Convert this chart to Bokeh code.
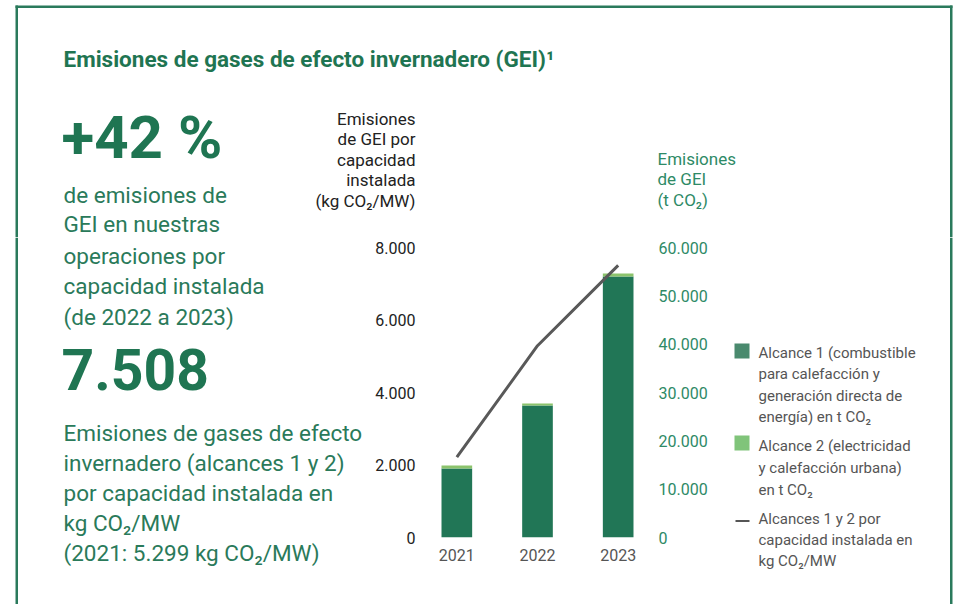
from bokeh.plotting import figure
from bokeh.models import FactorRange, Range1d, LinearAxis, FixedTicker
from bokeh.layouts import column, row
from bokeh.core.properties import value
from bokeh.embed import file_html
from bokeh.resources import INLINE

# ---------------- data ----------------
years = ["2021", "2022", "2023"]
alcance1_t = [14300, 27300, 54000]      # t CO2 (right axis)
alcance2_t = [600, 400, 600]            # t CO2 (right axis)
intensidad_kg_mw = [2215, 5290, 7508]   # kg CO2/MW (left axis)

left_ticks = [0, 2000, 4000, 6000, 8000]
left_tick_labels = ["0", "2.000", "4.000", "6.000", "8.000"]
right_ticks = [0, 10000, 20000, 30000, 40000, 50000, 60000]
right_tick_labels = ["0", "10.000", "20.000", "30.000", "40.000", "50.000", "60.000"]

FONT = "Roboto"
DARK = "#217656"
LIGHT = "#8cc36c"
LINEC = "#595959"
GREEN_TXT = "#1f7552"
GREEN_P = "#2a7a5a"
GREEN_AX = "#2e8a66"
BC = "#2a7a5c"
GREY = "#555555"

TOTAL_W, TOTAL_H = 955, 604
SPLIT_Y = 237
LEFT_W = 372
CHART_R = 731


def textfig(x0, x1, y0, y1):
    f = figure(width=x1 - x0, height=y1 - y0, output_backend="svg",
               toolbar_location=None, x_range=Range1d(x0, x1),
               y_range=Range1d(y1, y0), x_axis_location=None,
               y_axis_location=None, min_border=0)
    f.grid.visible = False
    f.outline_line_color = None
    f.background_fill_color = "white"
    f.border_fill_color = "white"
    return f


def txt(f, xs, ys, texts, size, color, bold=False, align="left"):
    f.text(x=xs, y=ys, text=texts, text_font=value(FONT),
           text_font_size=value(size), text_color=color,
           text_font_style="bold" if bold else "normal",
           text_align=align, text_baseline="middle")


def border(f, x0, x1, y0, y1):
    # frame lines of the panel (left, right and top edges)
    if y0 < 10:
        f.quad(left=[15], right=[952], top=[5], bottom=[7.5], color=BC, line_color=None)
    if x0 < 16:
        f.quad(left=[15], right=[17.5], top=[max(y0, 5)], bottom=[y1], color=BC, line_color=None)
    if x1 > 950:
        f.quad(left=[949.5], right=[952], top=[max(y0, 5)], bottom=[y1], color=BC, line_color=None)


PARA = "22.5px"
AXT = "17px"

# ---------- top panel: title, big number, axis titles ----------
top = textfig(0, TOTAL_W, 0, SPLIT_Y)
border(top, 0, TOTAL_W, 0, SPLIT_Y)
txt(top, [63], [58], ["Emisiones de gases de efecto invernadero (GEI)¹"], "22.5px", GREEN_TXT, bold=True)
txt(top, [61], [137], ["+42 %"], "60px", GREEN_TXT, bold=True)
txt(top, [63, 63], [194, 223.5], ["de emisiones de", "GEI en nuestras"], PARA, GREEN_P)
ltitle = ["Emisiones", "de GEI por", "capacidad", "instalada", "(kg CO₂/MW)"]
txt(top, [415] * 5, [118 + i * 20.5 for i in range(5)], ltitle, AXT, "#222222", align="right")
rtitle = ["Emisiones", "de GEI", "(t CO₂)"]
txt(top, [657] * 3, [158 + i * 20.5 for i in range(3)], rtitle, AXT, GREEN_AX)

# ---------- left panel ----------
left = textfig(0, LEFT_W, SPLIT_Y, TOTAL_H)
border(left, 0, LEFT_W, SPLIT_Y, TOTAL_H)
txt(left, [63] * 3, [255.5, 285.5, 316], ["operaciones por", "capacidad instalada", "(de 2022 a 2023)"], PARA, GREEN_P)
txt(left, [61], [369], ["7.508"], "57px", GREEN_TXT, bold=True)
para2 = ["Emisiones de gases de efecto", "invernadero (alcances 1 y 2)",
         "por capacidad instalada en", "kg CO₂/MW", "(2021: 5.299 kg CO₂/MW)"]
txt(left, [63] * 5, [432 + i * 30 for i in range(5)], para2, PARA, GREEN_P)

# ---------- chart panel ----------
FL, FR, FT, FB = 415, 658, 247, 537
p = figure(width=CHART_R - LEFT_W, height=TOTAL_H - SPLIT_Y, output_backend="svg",
           toolbar_location=None,
           x_range=FactorRange(factors=years, range_padding=0),
           y_range=Range1d(0, 8000))
p.min_border_left = FL - LEFT_W
p.min_border_right = CHART_R - FR
p.min_border_top = FT - SPLIT_Y
p.min_border_bottom = TOTAL_H - FB
p.extra_y_ranges = {"t": Range1d(0, 60000)}
p.xgrid.visible = False
p.ygrid.visible = False
p.outline_line_color = None

p.vbar_stack(["a1", "a2"], x="year", width=0.38, color=[DARK, LIGHT],
             source=dict(year=years, a1=alcance1_t, a2=alcance2_t),
             y_range_name="t", line_color=None)
p.line(years, intensidad_kg_mw, line_color=LINEC, line_width=3)


def style_axis(ax, color, size="16px"):
    ax.axis_line_color = None
    ax.major_tick_line_color = None
    ax.minor_tick_line_color = None
    ax.major_tick_out = 0
    ax.major_tick_in = 0
    ax.major_label_text_font = FONT
    ax.major_label_text_font_size = size
    ax.major_label_text_color = color


la = p.yaxis[0]
la.ticker = FixedTicker(ticks=left_ticks)
la.major_label_overrides = {t: s for t, s in zip(left_ticks, left_tick_labels)}
style_axis(la, "#222222")
la.major_label_standoff = 1

ra = LinearAxis(y_range_name="t", ticker=FixedTicker(ticks=right_ticks))
ra.major_label_overrides = {t: s for t, s in zip(right_ticks, right_tick_labels)}
style_axis(ra, GREEN_AX)
ra.major_label_standoff = 0
p.add_layout(ra, "right")

xa = p.xaxis[0]
style_axis(xa, GREY)
xa.major_label_standoff = 11

# ---------- legend panel ----------
lg = textfig(CHART_R, TOTAL_W, SPLIT_Y, TOTAL_H)
border(lg, CHART_R, TOTAL_W, SPLIT_Y, TOTAL_H)
lg.quad(left=[734], right=[749], top=[343], bottom=[358], color="#4a8a6e", line_color=None)
lg.quad(left=[734], right=[749], top=[435], bottom=[450], color="#80c47a", line_color=None)
lg.quad(left=[735], right=[749], top=[519.5], bottom=[521.5], color=GREY, line_color=None)
LEG = "15px"
leg1 = ["Alcance 1 (combustible", "para calefacción y", "generación directa de", "energía) en t CO₂"]
txt(lg, [758] * 4, [352.5 + i * 21.3 for i in range(4)], leg1, LEG, GREY)
leg2 = ["Alcance 2 (electricidad", "y calefacción urbana)", "en t CO₂"]
txt(lg, [758] * 3, [445 + i * 22 for i in range(3)], leg2, LEG, GREY)
leg3 = ["Alcances 1 y 2 por", "capacidad instalada en", "kg CO₂/MW"]
txt(lg, [758] * 3, [518 + i * 21 for i in range(3)], leg3, LEG, GREY)

layout = column(top, row(column(left, spacing=0), p, column(lg, spacing=0), spacing=0), spacing=0)
open("out.html", "w").write(file_html(layout, INLINE))
